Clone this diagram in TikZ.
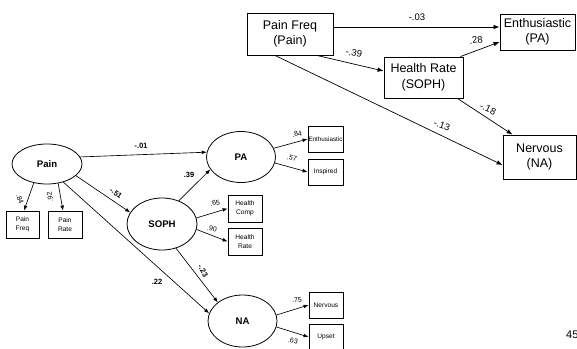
\documentclass[tikz,border=0pt]{standalone}
\usepackage{fontspec}
\setmainfont{Liberation Sans}
\usetikzlibrary{arrows.meta,shapes.geometric}
\begin{document}
\begin{tikzpicture}[x=1pt,y=-1pt,
  bigbox/.style={draw,line width=0.9pt,inner sep=0pt,align=center,font=\fontsize{12.5}{15.5}\selectfont},
  smallbox/.style={draw,line width=0.8pt,inner sep=0pt,align=center,minimum width=34pt,minimum height=27pt,font=\fontsize{6.6}{9.5}\selectfont},
  latent/.style={draw,ellipse,line width=0.8pt,inner sep=0pt,font=\fontsize{9.6}{11}\selectfont\bfseries},
  toparr/.style={-{Latex[length=6pt,width=4.5pt]},line width=0.7pt},
  arr/.style={-{Latex[length=5pt,width=3.8pt]},line width=0.65pt},
  toplab/.style={font=\fontsize{9.5}{11}\selectfont,inner sep=0pt},
  pathlab/.style={font=\fontsize{7.5}{9}\selectfont\bfseries,inner sep=0pt},
  loadlab/.style={font=\fontsize{7}{8}\selectfont,inner sep=0pt}]
\useasboundingbox (0,0) rectangle (577,348);

% ---------- top diagram ----------
\node[bigbox,minimum width=86pt,minimum height=42pt] (pf) at (290,34) {Pain Freq\\(Pain)};
\node[bigbox,minimum width=75pt,minimum height=36pt] (en) at (537.5,32) {Enthusiastic\\(PA)};
\node[bigbox,minimum width=79pt,minimum height=41pt] (hr) at (423.5,77.5) {Health Rate\\(SOPH)};
\node[bigbox,minimum width=73pt,minimum height=44pt] (nv) at (539.5,157) {Nervous\\(NA)};

\draw[toparr] ([yshift=7pt]pf.east) -- ([yshift=5pt]en.west);
\draw[toparr] ([xshift=27pt]pf.south) -- ([yshift=6.5pt]hr.west);
\draw[toparr] ([xshift=-3pt]hr.north east) -- ([yshift=-10pt]en.west);
\draw[toparr] ([xshift=-6pt]hr.south east) -- ([xshift=-27pt]nv.north);
\draw[toparr] ([xshift=-15pt]pf.south) -- ([yshift=-8pt]nv.west);

\node[toplab] (l1) at (417,17) {-.03};
\node[toplab,rotate=-12] (l2) at (354,53) {-.39};
\node[toplab,rotate=8] (l3) at (476,40) {.28};
\node[toplab,rotate=-25] (l4) at (488,109) {-.18};
\node[toplab,rotate=-20] (l5) at (442,125) {-.13};

% ---------- bottom diagram ----------
\node[latent,minimum width=70pt,minimum height=40pt] (pain) at (47,164) {Pain};
\node[latent,minimum width=69pt,minimum height=51pt] (pa) at (241,157) {PA};
\node[latent,minimum width=70pt,minimum height=52pt] (soph) at (162,224) {SOPH};
\node[latent,minimum width=69pt,minimum height=52pt] (na) at (242.5,321) {NA};

\node[smallbox,minimum width=33pt] (pfq) at (22.5,224.5) {Pain\\Freq};
\node[smallbox] (prt) at (65,224.5) {Pain\\Rate};
\node[smallbox,minimum width=35pt,minimum height=26pt] (en2) at (325.5,139) {\fontsize{6.3}{8}\selectfont Enthusiastic};
\node[smallbox,minimum width=35pt,minimum height=26pt] (insp) at (325.5,172) {Inspired};
\node[smallbox] (hc) at (245,208.5) {Health\\Comp};
\node[smallbox] (hr2) at (245,241.5) {Health\\Rate};
\node[smallbox,minimum height=26pt] (nerv) at (326,305) {Nervous};
\node[smallbox,minimum height=26pt] (upset) at (326,337) {Upset};

\draw[arr] (pain.235) -- ([xshift=1.5pt]pfq.north);
\draw[arr] (pain.300) -- ([xshift=-2pt]prt.north);
\draw[arr] (pain.12) -- (pa.172);
\draw[arr] (pain.338) -- (soph.160);
\draw[arr] (pain.312) -- (na.167);
\draw[arr] (soph.54) -- (pa.202);
\draw[arr] (soph.10) -- (hc.west);
\draw[arr] (soph.351) -- (hr2.west);
\draw[arr] (soph.300) -- (na.143);
\draw[arr] (pa.15) -- (en2.west);
\draw[arr] (pa.350) -- (insp.west);
\draw[arr] (na.10) -- (nerv.west);
\draw[arr] (na.350) -- (upset.west);

\node[loadlab,rotate=-70] (b1) at (20,199) {.84};
\node[loadlab,rotate=100] (b2) at (50,197) {.92};
\node[pathlab,rotate=3] (b3) at (141,146) {-.01};
\node[pathlab,rotate=-35] (b4) at (116,193) {-.51};
\node[pathlab] (b5) at (157,282) {.22};
\node[pathlab] (b6) at (189,175) {.39};
\node[pathlab,rotate=-60] (b7) at (203,271) {-.23};
\node[loadlab,rotate=10] (b8) at (297,134) {.84};
\node[loadlab,rotate=-15] (b9) at (292,158) {.57};
\node[loadlab,rotate=10] (b10) at (215,203) {.65};
\node[loadlab,rotate=-8] (b11) at (212,229) {.90};
\node[loadlab,rotate=5] (b12) at (297,300) {.75};
\node[loadlab,rotate=-10] (b13) at (293,341) {.63};

\node[font=\fontsize{11}{13}\selectfont,anchor=west,inner sep=0pt] (pg) at (566,335) {45};
\end{tikzpicture}
\end{document}
